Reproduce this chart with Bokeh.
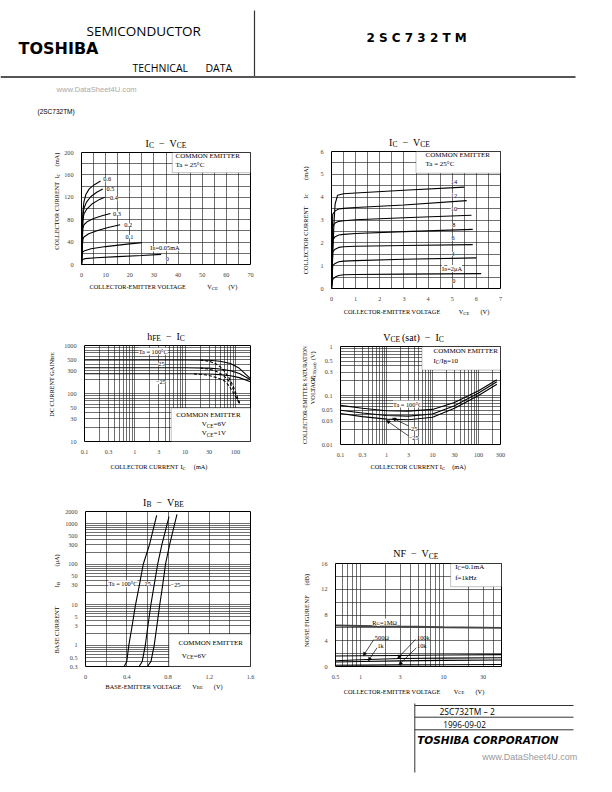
from bokeh.plotting import figure
from bokeh.layouts import column, row
from bokeh.models import (Range1d, FixedTicker, Label, Arrow, NormalHead, BoxAnnotation,
                          CustomJSTickFormatter)
from bokeh.core.properties import value
from bokeh.embed import file_html
from bokeh.resources import INLINE

# ======================= DATA =======================
# Chart 1: IC - VCE (IB in mA)
C1_IB = ["0.6", "0.5", "0.4", "0.3", "0.2", "0.1", "0.05"]
C1_VCE = [
    [0, 0.3, 0.6, 1.0, 1.8, 3.2, 5.5, 7.9],
    [0, 0.3, 0.6, 1.0, 2.0, 3.8, 6.3, 8.8],
    [0, 0.3, 0.6, 1.0, 2.2, 4.3, 7.0, 9.6],
    [0, 0.3, 0.6, 1.0, 2.5, 5.0, 8.5, 12.0],
    [0, 0.3, 0.6, 1.0, 3.0, 7.0, 11.0, 16.0],
    [0, 0.2, 0.5, 1.0, 4.0, 10.0, 18.0, 25.0],
    [0, 0.2, 0.5, 1.5, 6.0, 15.0, 25.0, 33.0],
]
C1_IC = [
    [0, 60, 95, 112, 125, 135, 143, 149],
    [0, 55, 88, 100, 111, 121, 129, 135],
    [0, 50, 80, 90, 99, 108, 115, 120],
    [0, 42, 65, 71, 77, 82, 87, 91],
    [0, 30, 45, 49, 55, 61, 66, 71],
    [0, 16, 22, 24, 28, 32, 36, 39],
    [0, 7, 9, 10.5, 12, 14, 16, 18],
]
C1_XTICKS = [0, 10, 20, 30, 40, 50, 60, 70]
C1_YTICKS = [0, 40, 80, 120, 160, 200]

# Chart 2: IC - VCE (IB in uA)
C2_IB = ["14", "12", "10", "8", "6", "4", "2"]
C2_VCE = [
    [0, 0.1, 0.15, 0.25, 0.5, 1, 3, 5.5],
    [0, 0.05, 0.15, 0.3, 0.5, 1, 3, 5.6],
    [0, 0.05, 0.15, 0.3, 0.5, 1, 3, 5.8],
    [0, 0.05, 0.15, 0.3, 0.5, 1, 3, 5.85],
    [0, 0.05, 0.15, 0.3, 0.5, 1, 3, 5.85],
    [0, 0.05, 0.15, 0.3, 0.5, 1, 3, 6.0],
    [0, 0.05, 0.15, 0.3, 0.5, 1, 3, 6.2],
]
C2_IC = [
    [0, 2.8, 3.7, 4.08, 4.15, 4.18, 4.3, 4.44],
    [0, 3.25, 3.4, 3.48, 3.51, 3.55, 3.66, 3.85],
    [0, 2.72, 2.87, 2.94, 2.97, 3.01, 3.1, 3.21],
    [0, 2.12, 2.27, 2.34, 2.37, 2.41, 2.49, 2.59],
    [0, 1.6, 1.72, 1.8, 1.83, 1.85, 1.88, 1.92],
    [0, 1.0, 1.1, 1.17, 1.2, 1.22, 1.28, 1.34],
    [0, 0.4, 0.5, 0.57, 0.6, 0.61, 0.63, 0.65],
]
C2_XTICKS = [0, 1, 2, 3, 4, 5, 6, 7]
C2_YTICKS = [0, 1, 2, 3, 4, 5, 6]

# Chart 3: hFE - IC
C3_TA = ["100", "25", "-25"]
C3_IC_6V = [0.1, 1, 10, 30, 50, 80, 120, 200]
C3_HFE_6V = [
    [500, 500, 500, 492, 470, 420, 335, 205],
    [344, 344, 344, 338, 325, 298, 262, 193],
    [257, 257, 257, 254, 247, 234, 214, 176],
]
C3_IC_1V = [
    [20, 30, 40, 50, 60, 75, 90, 105, 123],
    [20, 30, 40, 50, 60, 75, 90, 105, 120],
    [15, 25, 35, 45, 60, 75, 90, 105, 118],
]
C3_HFE_1V = [
    [500, 470, 420, 360, 295, 210, 145, 95, 62],
    [340, 322, 295, 262, 230, 180, 125, 88, 62],
    [256, 245, 228, 210, 185, 145, 105, 80, 64],
]
C3_XTICKS = [0.1, 0.3, 1, 3, 10, 30, 100]
C3_YTICKS = [10, 30, 50, 100, 300, 500, 1000]

# Chart 4: VCE(sat) - IC
C4_TA = ["100", "25", "-25"]
C4_IC = [0.1, 0.3, 1, 3, 10, 30, 100, 250]
C4_VSAT = [
    [0.063, 0.055, 0.049, 0.048, 0.052, 0.072, 0.125, 0.21],
    [0.050, 0.044, 0.039, 0.038, 0.042, 0.062, 0.112, 0.19],
    [0.043, 0.037, 0.033, 0.032, 0.036, 0.055, 0.100, 0.17],
]
C4_XTICKS = [0.1, 0.3, 1, 3, 10, 30, 100, 300]
C4_YTICKS = [0.01, 0.03, 0.05, 0.1, 0.3, 0.5, 1]

# Chart 5: IB - VBE
C5_TA = ["100", "25", "-25"]
C5_VBE = [
    [0.375, 0.40, 0.42, 0.452, 0.485, 0.522, 0.56, 0.62, 0.69],
    [0.52, 0.55, 0.58, 0.605, 0.634, 0.665, 0.70, 0.74, 0.81],
    [0.60, 0.635, 0.666, 0.692, 0.72, 0.748, 0.776, 0.815, 0.887],
]
C5_IB = [
    [0.3, 0.4, 1, 3, 10, 30, 100, 300, 1600],
    [0.3, 0.4, 1, 3, 10, 30, 100, 300, 1500],
    [0.3, 0.4, 1, 3, 10, 30, 100, 300, 1700],
]
C5_XTICKS = [0, 0.4, 0.8, 1.2, 1.6]
C5_YTICKS = [0.3, 0.5, 1, 3, 5, 10, 30, 50, 100, 300, 500, 1000, 2000]

# Chart 6: NF - VCE
C6_RG = ["1M", "500", "1k", "100k", "10k"]
C6_VCE = [0.5, 1, 3, 10, 50]
C6_NF = [
    [6.35, 6.3, 6.2, 6.1, 6.0],
    [1.62, 1.66, 1.72, 1.78, 1.85],
    [0.70, 0.78, 0.88, 0.95, 1.0],
    [0.90, 1.05, 1.25, 1.30, 1.35],
    [0.20, 0.22, 0.25, 0.28, 0.30],
]
C6_XTICKS = [0.5, 1, 3, 10, 30]
C6_YTICKS = [0, 4, 8, 12, 16]

# ======================= HELPERS =======================
SERIF = "Liberation Serif"
AX = 6.3    # axis text size
TK = 6.2    # tick label size
LG = 7.0    # legend text size
CL = 6.3    # curve label size
TT = 10.0   # title size
ROT = 1.5707963

W = {}
for c, w in zip("ABCDEFGHIJKLMNOPQRSTUVWXYZ",
                [722, 667, 667, 722, 611, 556, 722, 722, 333, 389, 722, 611, 889, 722, 722,
                 556, 722, 667, 556, 611, 722, 722, 944, 722, 722, 611]):
    W[c] = w
for c, w in zip("abcdefghijklmnopqrstuvwxyz",
                [444, 500, 444, 500, 444, 333, 500, 500, 278, 278, 500, 278, 778, 500, 500,
                 500, 500, 333, 389, 278, 500, 500, 722, 500, 500, 444]):
    W[c] = w
for c in "0123456789":
    W[c] = 500
W.update({" ": 250, "(": 333, ")": 333, "-": 333, ".": 250, "/": 278, "=": 564,
          "°": 400, "μ": 500, "Ω": 768, "−": 564})


def tw(s, size):
    return sum(W.get(c, 556) for c in s) / 1000.0 * size


def rich(p, x, y, parts, size, units="data", align="left", angle=0.0, bg=None):
    segs = []
    for part in parts:
        if isinstance(part, (int, float)):
            segs.append((None, float(part), 0, False))
            continue
        if isinstance(part, tuple):
            t, sub = part
        else:
            t, sub = part, False
        sz = size * 0.75 if sub else size
        segs.append((t, tw(t, sz), sz, sub))
    total = sum(s[1] for s in segs)
    off = {"left": 0.0, "center": -total / 2.0, "right": -total}[align]
    for t, w, sz, sub in segs:
        if t is not None:
            drop = size * 0.24 if sub else 0.0
            if angle == 0:
                xo, yo = off, -drop
            else:
                xo, yo = drop, off
            kw = dict(x=x, y=y, x_units=units, y_units=units, text=t, x_offset=xo, y_offset=yo,
                      angle=angle, text_font=SERIF, text_font_size="%.2fpx" % sz,
                      text_baseline="middle", text_align="left", text_color="black")
            if bg:
                kw["background_fill_color"] = bg
            p.add_layout(Label(**kw))
        off += w


def plab(p, fr, px, py, parts, size, align="left"):
    # text inside a chart frame, given in page pixels
    rich(p, px - fr[0], fr[1] - py, parts, size, "screen", align)


def grid_log(lo, hi):
    out = []
    for e in range(-3, 5):
        for k in range(1, 10):
            v = round(k * 10.0 ** e, 6)
            if lo * 0.999 <= v <= hi * 1.001:
                out.append(v)
    return out


def text_fig(x0, x1, y0, y1):
    p = figure(width=int(x1 - x0), height=int(y1 - y0), x_range=Range1d(x0, x1),
               y_range=Range1d(y1, y0), x_axis_type=None, y_axis_type=None,
               output_backend="svg", toolbar_location=None, title=None, min_border=0)
    p.outline_line_color = None
    p.background_fill_color = "white"
    p.border_fill_color = "white"
    return p


def chart_fig(w, h, l, r, t, b, xr, yr, xlog=False, ylog=False):
    p = figure(width=int(w), height=int(h), x_range=Range1d(*xr), y_range=Range1d(*yr),
               x_axis_type="log" if xlog else "linear",
               y_axis_type="log" if ylog else "linear",
               output_backend="svg", toolbar_location=None, title=None,
               min_border_left=l, min_border_right=r, min_border_top=t, min_border_bottom=b)
    p.outline_line_color = "black"
    p.outline_line_width = 1.0
    p.background_fill_color = "white"
    p.border_fill_color = "white"
    return p


def cell(x0, x1, y0, y1, frame, xr, yr, xlog=False, ylog=False, Lb=20, Tb=2, Bb=11):
    fl, fr_, ft, fb = frame
    ty1 = ft - Tb
    by0 = fb + Bb
    lx1 = fl - Lb
    tf = text_fig(x0, x1, y0, ty1)
    yf = text_fig(x0, lx1, ty1, by0)
    cf = chart_fig(x1 - lx1, by0 - ty1, Lb, x1 - fr_, Tb, Bb, xr, yr, xlog, ylog)
    xf = text_fig(x0, x1, by0, y1)
    return cf, tf, yf, xf, column(tf, row(yf, cf), xf)


def style(p, xticks, yticks, xgrid, ygrid):
    p.xaxis.ticker = FixedTicker(ticks=xticks)
    p.yaxis.ticker = FixedTicker(ticks=yticks)
    for ax in list(p.xaxis) + list(p.yaxis):
        ax.axis_line_color = None
        ax.major_tick_line_color = None
        ax.minor_tick_line_color = None
        ax.major_label_text_font = SERIF
        ax.major_label_text_font_size = "%.2fpx" % TK
        ax.major_label_standoff = 2
        ax.formatter = CustomJSTickFormatter(code="return String(Math.round(tick*10000)/10000);")
    p.xgrid.ticker = FixedTicker(ticks=xgrid)
    p.ygrid.ticker = FixedTicker(ticks=ygrid)
    p.grid.grid_line_color = "#1a1a1a"
    p.grid.grid_line_width = 0.7
    p.grid.grid_line_alpha = 0.9


def box(p, l, r, b, t):
    p.add_layout(BoxAnnotation(left=l, right=r, bottom=b, top=t, fill_color="white",
                               fill_alpha=1.0, line_color="black", line_width=0.8))


def arrow(p, x0, y0, x1, y1):
    p.add_layout(Arrow(end=NormalHead(size=3.5, fill_color="black", line_color="black",
                                      line_width=0.5),
                       x_start=x0, y_start=y0, x_end=x1, y_end=y1,
                       line_color="black", line_width=0.7))


LW = 1.1
TG = 5  # gap around the dash in titles

# ======================= CHART 1 =======================
F1 = (81, 250, 152, 268)
p1, t1, y1f, x1f, cell1 = cell(0, 300, 118, 318, F1, (0, 70), (0, 200))
style(p1, C1_XTICKS, C1_YTICKS, list(range(0, 71, 5)), list(range(0, 201, 20)))
box(p1, 37.6, 70, 164, 200)
for v, i in zip(C1_VCE, C1_IC):
    p1.line(v, i, line_color="black", line_width=LW)
fr1 = (F1[0], F1[3])
rich(t1, 165.5, 142.5, ["I", ("C", 1), TG, "−", TG, "V", ("CE", 1)], TT, align="center")
rich(y1f, 56, 262, ["COLLECTOR CURRENT"], AX, angle=ROT)
rich(y1f, 56, 180, ["I", ("C", 1)], AX, angle=ROT)
rich(y1f, 56, 166, ["(mA)"], AX, angle=ROT)
rich(x1f, 89, 286, ["COLLECTOR-EMITTER VOLTAGE"], AX)
rich(x1f, 206.7, 286, ["V", ("CE", 1)], AX)
rich(x1f, 228, 286, ["(V)"], AX)
plab(p1, fr1, 175, 159.5, ["COMMON EMITTER"], LG)
plab(p1, fr1, 175, 168.5, ["Ta = 25°C"], LG)
for lab, (x, y) in zip(C1_IB[:6], [(10.6, 152), (12.0, 134), (13.4, 118), (14.7, 91),
                                    (19.3, 71), (19.9, 49)]):
    rich(p1, x, y, [lab], CL, align="center", bg="white")
rich(p1, 28.5, 30.6, ["I", ("B", 1), "=" + C1_IB[6] + "mA"], CL, bg="white")
rich(p1, 35.6, 9.3, ["0"], CL, align="center", bg="white")

# ======================= CHART 2 =======================
F2 = (331, 500, 151, 292)
p2, t2, y2f, x2f, cell2 = cell(300, 604, 118, 318, F2, (0, 7), (0, 6), Lb=14)
style(p2, C2_XTICKS, C2_YTICKS, [k * 0.5 for k in range(15)], [k * 0.5 for k in range(13)])
box(p2, 3.5, 7, 5.05, 6)
for v, i in zip(C2_VCE, C2_IC):
    p2.line(v, i, line_color="black", line_width=LW)
fr2 = (F2[0], F2[3])
rich(t2, 409, 141.5, ["I", ("C", 1), TG, "−", TG, "V", ("CE", 1)], TT, align="center")
rich(y2f, 304.5, 287, ["COLLECTOR CURRENT"], AX, angle=ROT)
rich(y2f, 304.5, 202, ["I", ("C", 1)], AX, angle=ROT)
rich(y2f, 304.5, 181, ["(mA)"], AX, angle=ROT)
rich(x2f, 343.3, 311.2, ["COLLECTOR-EMITTER VOLTAGE"], AX)
rich(x2f, 458.3, 311.2, ["V", ("CE", 1)], AX)
rich(x2f, 480, 311.2, ["(V)"], AX)
plab(p2, fr2, 425, 158.3, ["COMMON EMITTER"], LG)
plab(p2, fr2, 425, 167.3, ["Ta = 25°C"], LG)
for lab, (x, y) in zip(C2_IB[:6], [(5.07, 4.65), (5.07, 4.07), (5.07, 3.47), (5.07, 2.76),
                                    (5.04, 2.19), (5.04, 1.52)]):
    rich(p2, x, y, [lab], CL, align="center", bg="white")
rich(p2, 4.58, 0.88, ["I", ("B", 1), "=" + C2_IB[6] + "μA"], CL, bg="white")
rich(p2, 5.07, 0.31, ["0"], CL, align="center", bg="white")

# ======================= CHART 3 =======================
F3 = (81, 250, 345, 445)
p3, t3, y3f, x3f, cell3 = cell(0, 300, 318, 480, F3, (0.1, 200), (10, 1000),
                               xlog=True, ylog=True)
style(p3, C3_XTICKS, C3_YTICKS, grid_log(0.1, 200), grid_log(10, 1000))
box(p3, 5.3, 200, 10, 50)
for h in C3_HFE_6V:
    p3.line(C3_IC_6V, h, line_color="black", line_width=LW)
for i, h in zip(C3_IC_1V, C3_HFE_1V):
    p3.line(i, h, line_color="black", line_width=LW, line_dash="3 2")
fr3 = (F3[0], F3[3])
rich(t3, 165.5, 335.5, ["h", ("FE", 1), TG, "−", TG, "I", ("C", 1)], TT, align="center")
rich(y3f, 50.7, 427, ["DC CURRENT GAIN"], AX, angle=ROT)
rich(y3f, 50.7, 361, ["h", ("FE", 1)], AX, angle=ROT)
rich(x3f, 110, 466, ["COLLECTOR CURRENT"], AX)
rich(x3f, 180, 466, ["I", ("C", 1)], AX)
rich(x3f, 193.3, 466, ["(mA)"], AX)
plab(p3, fr3, 172.7, 418.3, ["COMMON EMITTER"], LG)
p3.line([6.3, 15.5], [21.2, 21.2], line_color="black", line_width=LW)
p3.line([6.3, 15.5], [14.3, 14.3], line_color="black", line_width=LW, line_dash="3 2")
plab(p3, fr3, 198.3, 427.7, ["V", ("CE", 1), "=6V"], LG)
plab(p3, fr3, 198.3, 436.7, ["V", ("CE", 1), "=1V"], LG)
rich(p3, 2.35, 760, ["Ta = " + C3_TA[0] + "°C"], CL, align="center", bg="white")
rich(p3, 3.4, 408, [C3_TA[1]], CL, align="center", bg="white")
rich(p3, 3.3, 171, ["−" + C3_TA[2][1:]], CL, align="center", bg="white")

# ======================= CHART 4 =======================
F4 = (331, 500, 346, 448)
p4, t4, y4f, x4f, cell4 = cell(300, 604, 318, 480, F4, (0.1, 300), (0.01, 1),
                               xlog=True, ylog=True, Lb=13)
style(p4, C4_XTICKS, C4_YTICKS, grid_log(0.1, 300), grid_log(0.01, 1))
box(p4, 5.9, 300, 0.33, 1)
for v in C4_VSAT:
    p4.line(C4_IC, v, line_color="black", line_width=LW)
fr4 = (F4[0], F4[3])
rich(t4, 413, 336.5, ["V", ("CE", 1), 2, "(sat)", TG, "−", TG, "I", ("C", 1)], TT,
     align="center")
rich(y4f, 304.6, 400, ["COLLECTOR-EMITTER SATURATION"], 5.8, align="center", angle=ROT)
rich(y4f, 312.3, 411.7, ["VOLTAGE"], AX, angle=ROT)
rich(y4f, 312.3, 385, ["V", ("CE", 1), ("(sat)", 1)], AX, angle=ROT)
rich(y4f, 312.3, 360, ["(V)"], AX, angle=ROT)
rich(x4f, 370, 466, ["COLLECTOR CURRENT"], AX)
rich(x4f, 439.3, 466, ["I", ("C", 1)], AX)
rich(x4f, 451.7, 466, ["(mA)"], AX)
plab(p4, fr4, 424, 354, ["COMMON EMITTER"], LG)
plab(p4, fr4, 424, 364.3, ["I", ("C", 1), "/I", ("B", 1), "=10"], LG)
rich(p4, 2.9, 0.067, ["Ta = " + C4_TA[0] + "°C"], CL, align="center", bg="white")
rich(p4, 4.0, 0.021, [C4_TA[1]], CL, align="center", bg="white")
rich(p4, 3.9, 0.0135, ["−" + C4_TA[2][1:]], CL, align="center", bg="white")
arrow(p4, 3.0, 0.024, 1.35, 0.0345)
arrow(p4, 3.0, 0.015, 1.0, 0.031)

# ======================= CHART 5 =======================
F5 = (82, 250, 511, 670)
p5, t5, y5f, x5f, cell5 = cell(0, 300, 480, 700, F5, (0, 1.6), (0.3, 2000), ylog=True)
style(p5, C5_XTICKS, C5_YTICKS, [round(k * 0.2, 2) for k in range(9)],
      grid_log(0.3, 1000) + [2000])
box(p5, 0.81, 1.6, 0.3, 1.91)
for v, i in zip(C5_VBE, C5_IB):
    p5.line(v, i, line_color="black", line_width=LW)
fr5 = (F5[0], F5[3])
rich(t5, 163, 501.5, ["I", ("B", 1), TG, "−", TG, "V", ("BE", 1)], TT, align="center")
rich(y5f, 56, 666.7, ["BASE CURRENT"], AX, angle=ROT)
rich(y5f, 56, 593, ["I", ("B", 1)], AX, angle=ROT)
rich(y5f, 56, 570, ["(μA)"], AX, angle=ROT)
rich(x5f, 105, 685.5, ["BASE-EMITTER VOLTAGE"], AX)
rich(x5f, 191.7, 685.5, ["V", ("BE", 1)], AX)
rich(x5f, 213.3, 685.5, ["(V)"], AX)
plab(p5, fr5, 175, 646, ["COMMON EMITTER"], LG)
plab(p5, fr5, 178.3, 659.3, ["V", ("CE", 1), "=6V"], LG)
rich(p5, 0.222, 33, ["Ta = " + C5_TA[0] + "°C"], CL, bg="white")
rich(p5, 0.572, 33, [C5_TA[1]], CL, bg="white")
rich(p5, 0.825, 30, ["−" + C5_TA[2][1:]], CL, bg="white")

# ======================= CHART 6 =======================
F6 = (332, 501, 563, 670)
p6, t6, y6f, x6f, cell6 = cell(300, 604, 480, 700, F6, (0.5, 50), (0, 16), xlog=True, Lb=14)
style(p6, C6_XTICKS, C6_YTICKS, grid_log(0.5, 50), list(range(0, 17, 2)))
box(p6, 12.2, 50, 12.4, 16)
for k, nf in enumerate(C6_NF):
    if k == 0:
        p6.line(C6_VCE, nf, line_color="#444444", line_width=2.0)
    else:
        p6.line(C6_VCE, nf, line_color="black", line_width=LW)
fr6 = (F6[0], F6[3])
rich(t6, 415.3, 553.3, ["NF", TG, "−", TG, "V", ("CE", 1)], TT, align="center")
rich(y6f, 306, 658.3, ["NOISE FIGURE"], AX, angle=ROT)
rich(y6f, 306, 607.5, ["NF"], AX, angle=ROT)
rich(y6f, 306, 586.7, ["(dB)"], AX, angle=ROT)
rich(x6f, 343.3, 690.7, ["COLLECTOR-EMITTER VOLTAGE"], AX)
rich(x6f, 453.3, 690.7, ["V", ("CE", 1)], AX)
rich(x6f, 475, 690.7, ["(V)"], AX)
plab(p6, fr6, 451.7, 570, ["I", ("C", 1), "=0.1mA"], LG)
plab(p6, fr6, 451.7, 581.7, ["f=1kHz"], LG)
rich(p6, 1.39, 6.9, ["R", ("G", 1), "=" + C6_RG[0] + "Ω"], CL, bg="white")
rich(p6, 1.49, 4.5, [C6_RG[1] + "Ω"], CL)
rich(p6, 1.60, 3.2, [C6_RG[2]], CL)
rich(p6, 4.8, 4.5, [C6_RG[3]], CL)
rich(p6, 4.8, 3.2, [C6_RG[4]], CL)
arrow(p6, 1.45, 4.2, 1.08, 1.66)
arrow(p6, 1.58, 2.9, 1.24, 0.85)
arrow(p6, 4.6, 4.2, 2.8, 1.25)
arrow(p6, 4.7, 2.9, 2.9, 0.26)

# ======================= HEADER / FOOTER =======================
def ptext(p, x, y, t, font, size, style="normal", color="black"):
    p.text(x=[x], y=[y], text=[t], text_font=value(font), text_font_size=size,
           text_font_style=style, text_color=color, text_baseline="middle", text_align="left")


hdr = text_fig(0, 604, 0, 118)
ptext(hdr, 86, 30, "SEMICONDUCTOR", "Open Sans", "13.5px")
ptext(hdr, 18, 48, "TOSHIBA", "DejaVu Sans", "16px", "bold")
ptext(hdr, 132, 67, "TECHNICAL", "Open Sans", "10.5px")
ptext(hdr, 205, 67, "DATA", "Open Sans", "10.5px")
ptext(hdr, 366, 37, "2 S C 7 3 2 T M", "DejaVu Sans", "12px", "bold")
ptext(hdr, 56, 89, "www.DataSheet4U.com", "Liberation Sans", "7.6px", color="#aaaaaa")
ptext(hdr, 37, 111, "(2SC732TM)", "Liberation Sans", "6.5px")
hdr.segment(x0=[254], y0=[10], x1=[254], y1=[77], line_color="#333333", line_width=1.2)
hdr.segment(x0=[0], y0=[76.5], x1=[575], y1=[76.5], line_color="#555555", line_width=2)

ftr = text_fig(0, 604, 700, 784)
ftr.segment(x0=[414.3], y0=[703], x1=[414.3], y1=[772], line_color="#333333", line_width=1)
ftr.segment(x0=[414.3, 414.3, 414.3], y0=[705, 716.7, 729.3], x1=[573, 573, 573],
            y1=[705, 716.7, 729.3], line_color="#333333", line_width=1)
ptext(ftr, 439, 711, "2SC732TM – 2", "Open Sans", "8.5px")
ptext(ftr, 442.7, 723.5, "1996-09-02", "Open Sans", "8.2px")
ptext(ftr, 416.7, 739.3, "TOSHIBA CORPORATION", "DejaVu Sans", "10.5px", "bold italic")
ptext(ftr, 481.7, 756.7, "www.DataSheet4U.com", "Liberation Sans", "9px", color="#999999")

layout = column(hdr, row(cell1, cell2), row(cell3, cell4), row(cell5, cell6), ftr)
open("out.html", "w").write(file_html(layout, INLINE, title="2SC732TM"))
